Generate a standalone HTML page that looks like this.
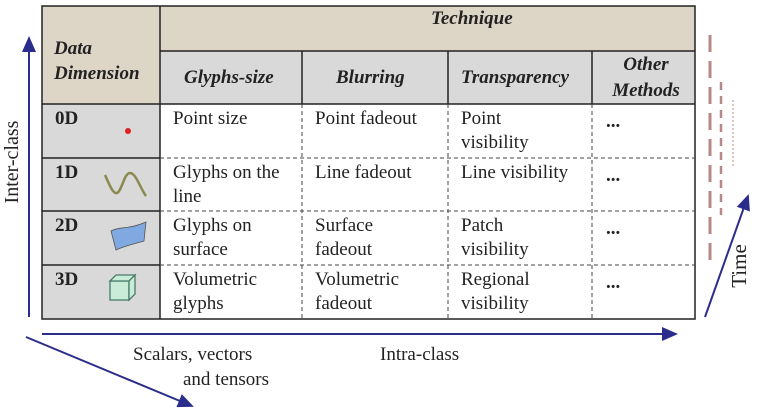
<!DOCTYPE html>
<html><head><style>
body{margin:0;width:758px;height:411px;background:#fff;position:relative;overflow:hidden;font-family:"Liberation Serif",serif;color:#222;}
.a{position:absolute;}
.t{position:absolute;font-size:19px;line-height:24px;}
.b{font-weight:bold;font-style:italic;font-size:19px;}
</style></head><body>
<svg class="a" style="left:0;top:0" width="758" height="411">
<defs><marker id="ah2" markerWidth="16" markerHeight="14" refX="14" refY="7" orient="auto" markerUnits="userSpaceOnUse"><path d="M0,0 L16,7 L0,14 z" fill="#2a2d8c"/></marker></defs>
<rect x="42" y="6" width="653" height="45" fill="#ddd6c6"/>
<rect x="42" y="6" width="118" height="98" fill="#ddd6c6"/>
<rect x="160" y="51" width="535" height="53" fill="#d9d9d9"/>
<rect x="42" y="104" width="118" height="215" fill="#d9d9d9"/>
<g stroke="#222" stroke-width="1.5" fill="none">
<rect x="42" y="6" width="653" height="313"/>
<line x1="160" y1="6" x2="160" y2="319"/>
<line x1="160" y1="51" x2="695" y2="51"/>
<line x1="42" y1="104" x2="695" y2="104"/>
<line x1="42" y1="158" x2="160" y2="158"/>
<line x1="42" y1="211" x2="160" y2="211"/>
<line x1="42" y1="265" x2="160" y2="265"/>
<line x1="302" y1="51" x2="302" y2="104"/>
<line x1="448" y1="51" x2="448" y2="104"/>
<line x1="592" y1="51" x2="592" y2="104"/>
</g>
<g stroke="#444" stroke-width="1" stroke-dasharray="4,3" fill="none">
<line x1="160" y1="158" x2="695" y2="158"/>
<line x1="160" y1="211" x2="695" y2="211"/>
<line x1="160" y1="265" x2="695" y2="265"/>
<line x1="302" y1="104" x2="302" y2="319"/>
<line x1="448" y1="104" x2="448" y2="319"/>
<line x1="592" y1="104" x2="592" y2="319"/>
</g>
<circle cx="128" cy="131" r="3" fill="#e02020"/>
<path d="M105,175 C110,186 113,194 117,193 C122,191 124,173 130,173 C136,173 140,188 146,196" stroke="#8a8a50" stroke-width="2.5" fill="none"/>
<path d="M111,231 C120,226 128,230 146,222 L144,241 C134,244 124,246 116,250 Z" fill="#7fa9e0" stroke="#555" stroke-width="0.8"/>
<g stroke="#4a7a6a" stroke-width="1.3" fill="#c8ecd8"><rect x="110" y="281" width="19" height="19"/><path d="M110,281 L116,275 L135,275 L129,281 Z M129,281 L135,275 L135,294 L129,300 Z"/></g>
<line x1="29" y1="317" x2="29" y2="38" stroke="#2a2d8c" stroke-width="2" marker-end="url(#ah2)"/>
<line x1="42" y1="334" x2="676" y2="334" stroke="#2a2d8c" stroke-width="2" marker-end="url(#ah2)"/>
<line x1="26" y1="337" x2="192" y2="406" stroke="#2a2d8c" stroke-width="2" marker-end="url(#ah2)"/>
<line x1="705" y1="317" x2="748" y2="196" stroke="#2a2d8c" stroke-width="2" marker-end="url(#ah2)"/>
<line x1="710" y1="35" x2="710" y2="262" stroke="#b88888" stroke-width="3" stroke-dasharray="17,9"/>
<line x1="721" y1="82" x2="721" y2="215" stroke="#b88888" stroke-width="2.5" stroke-dasharray="8,6"/>
<line x1="733" y1="100" x2="733" y2="168" stroke="#b88888" stroke-width="1" stroke-dasharray="2,2"/>
</svg>
<div class="t b" style="left:431px;top:7px">Technique</div>
<div class="t b" style="left:54px;top:36px;line-height:25px">Data<br>Dimension</div>
<div class="t b" style="left:184px;top:66px">Glyphs-size</div>
<div class="t b" style="left:336px;top:66px">Blurring</div>
<div class="t b" style="left:461px;top:66px">Transparency</div>
<div class="t b" style="left:600px;top:52px;text-align:center;width:92px;line-height:26px">Other<br>Methods</div>
<div class="t" style="left:55px;top:107px;font-weight:bold">0D</div>
<div class="t" style="left:55px;top:161px;font-weight:bold">1D</div>
<div class="t" style="left:55px;top:214px;font-weight:bold">2D</div>
<div class="t" style="left:55px;top:268px;font-weight:bold">3D</div>
<div class="t" style="left:173px;top:107px">Point size</div>
<div class="t" style="left:315px;top:107px">Point fadeout</div>
<div class="t" style="left:461px;top:107px">Point<br>visibility</div>
<div class="t" style="left:606px;top:110px;font-weight:bold">...</div>
<div class="t" style="left:173px;top:161px">Glyphs on the<br>line</div>
<div class="t" style="left:315px;top:161px">Line fadeout</div>
<div class="t" style="left:461px;top:161px">Line visibility</div>
<div class="t" style="left:606px;top:164px;font-weight:bold">...</div>
<div class="t" style="left:173px;top:214px">Glyphs on<br>surface</div>
<div class="t" style="left:315px;top:214px">Surface<br>fadeout</div>
<div class="t" style="left:461px;top:214px">Patch<br>visibility</div>
<div class="t" style="left:606px;top:217px;font-weight:bold">...</div>
<div class="t" style="left:173px;top:268px">Volumetric<br>glyphs</div>
<div class="t" style="left:315px;top:268px">Volumetric<br>fadeout</div>
<div class="t" style="left:461px;top:268px">Regional<br>visibility</div>
<div class="t" style="left:606px;top:271px;font-weight:bold">...</div>
<div class="t" style="left:133px;top:343px">Scalars, vectors</div>
<div class="t" style="left:183px;top:368px">and tensors</div>
<div class="t" style="left:380px;top:343px">Intra-class</div>
<div class="t" style="left:-48px;top:150px;width:120px;text-align:center;transform:rotate(-90deg);font-size:20px">Inter-class</div>
<div class="t" style="left:709px;top:254px;width:60px;text-align:center;transform:rotate(-90deg);font-size:21px">Time</div>
</body></html>
